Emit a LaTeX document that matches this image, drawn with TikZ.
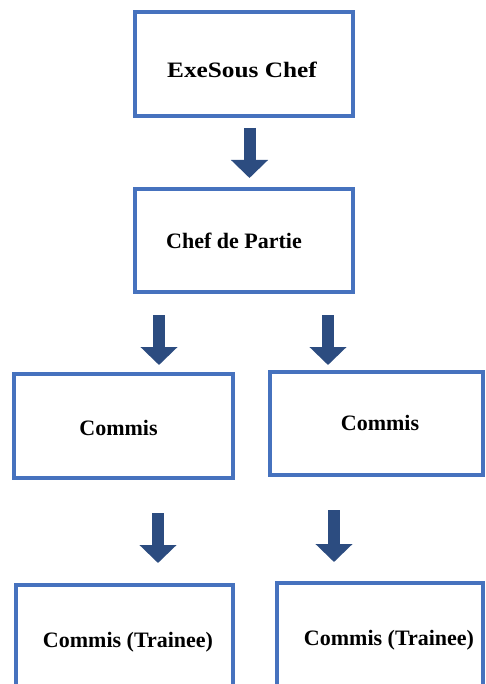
\documentclass[tikz,border=0pt]{standalone}
\usepackage{fontspec}
\setmainfont{Liberation Serif}
\usepackage{graphicx}
\usetikzlibrary{arrows.meta}
\definecolor{boxblue}{RGB}{70,114,190}
\definecolor{arrowblue}{RGB}{44,76,128}
\tikzset{
  box/.style={draw=boxblue, line width=3pt, rectangle, inner sep=0pt, outer sep=0pt, fill=white},
  lbl/.style={font=\fontsize{16.5pt}{19pt}\selectfont\bfseries, inner sep=0pt, anchor=base},
  bigarrow/.style={draw=arrowblue, line width=9pt, line cap=butt,
    -{Triangle[width=27pt,length=13.5pt]}}
}
\begin{document}
\begin{tikzpicture}[x=0.75pt,y=-0.75pt]
\useasboundingbox (0,0) rectangle (485,684);
\clip (0,0) rectangle (485,684);
\fill[white] (0,0) rectangle (485,684);
% boxes
\node[box, minimum width=218*0.75pt, minimum height=104*0.75pt] (b1) at (244,64) {};
\node[box, minimum width=218*0.75pt, minimum height=103*0.75pt] (b2) at (244,240.5) {};
\node[box, minimum width=219*0.75pt, minimum height=104*0.75pt] (b3l) at (123.5,426) {};
\node[box, minimum width=213*0.75pt, minimum height=103*0.75pt] (b3r) at (376.5,423.5) {};
\node[box, minimum width=217*0.75pt, minimum height=140*0.75pt] (b4l) at (124.5,655) {};
\node[box, minimum width=206*0.75pt, minimum height=140*0.75pt] (b4r) at (380,653) {};
% labels
\node[lbl] (t1) at (242,78) {\scalebox{1.15}[1]{ExeSous Chef}};
\node[lbl] (t2) at (234,248) {Chef de Partie};
\node[lbl] (t3l) at (118.5,435) {Commis};
\node[lbl] (t3r) at (380,430) {Commis};
\node[lbl] (t4l) at (128,647) {Commis (Trainee)};
\node[lbl] (t4r) at (389,645) {Commis (Trainee)};
% arrow end points
\coordinate (a1s) at (249.5,128);
\coordinate (a1e) at (249.5,178);
\coordinate (a2ls) at (159,315);
\coordinate (a2le) at (159,365);
\coordinate (a2rs) at (328,315);
\coordinate (a2re) at (328,365);
\coordinate (a3ls) at (158,513);
\coordinate (a3le) at (158,563);
\coordinate (a3rs) at (334,510);
\coordinate (a3re) at (334,562);
\draw[bigarrow] (a1s) -- (a1e);
\draw[bigarrow] (a2ls) -- (a2le);
\draw[bigarrow] (a2rs) -- (a2re);
\draw[bigarrow] (a3ls) -- (a3le);
\draw[bigarrow] (a3rs) -- (a3re);
\end{tikzpicture}
\end{document}
